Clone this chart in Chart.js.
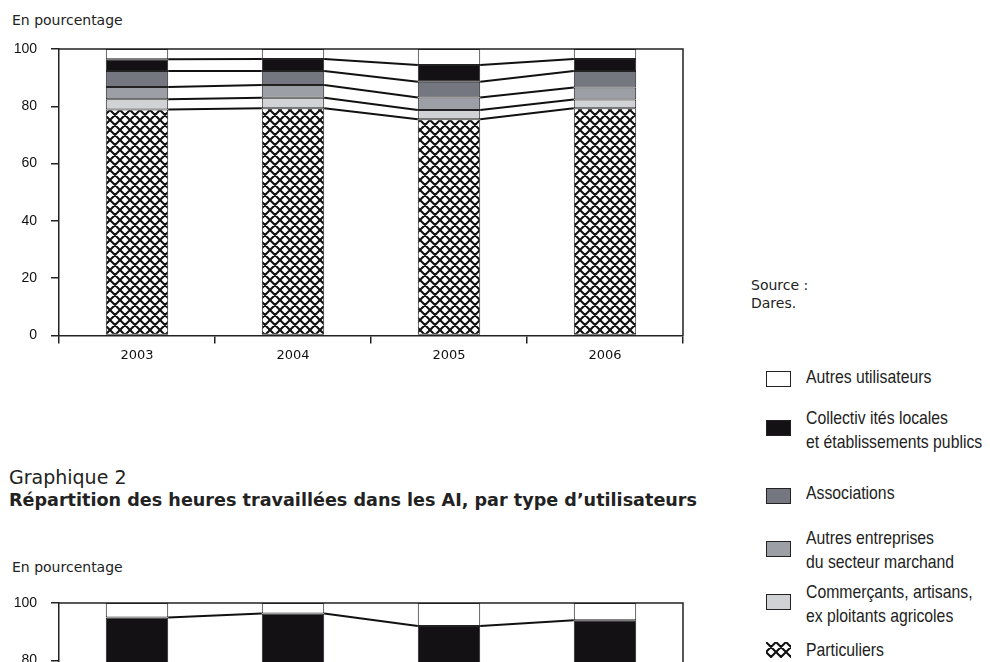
<!DOCTYPE html>
<html><head><meta charset="utf-8">
<script src="https://cdn.jsdelivr.net/npm/chart.js@4/dist/chart.umd.min.js"></script>
<style>
html,body{margin:0;padding:0;width:990px;height:662px;overflow:hidden;background:#fff;}
.abs{position:absolute;white-space:nowrap;}
.dv{font-family:"DejaVu Sans",sans-serif;color:#222;}
.lg{font-family:"Liberation Sans",sans-serif;font-size:19px;line-height:24px;color:#222;transform:scaleX(0.83);transform-origin:0 0;}
.box{position:absolute;left:766px;width:25px;height:16px;box-sizing:border-box;border:1px solid #222;}
</style></head><body>
<div class="abs dv" style="left:12px;top:12px;font-size:14px;line-height:16px">En pourcentage</div>
<canvas id="c1" class="abs" style="left:0;top:0" width="700" height="380"></canvas>

<div class="abs dv" style="left:751px;top:276px;font-size:14px;line-height:18px">Source :<br>Dares.</div>
<div id="legend"></div>

<div class="abs dv" style="left:9px;top:466px;font-size:19px;line-height:22px">Graphique 2</div>
<div class="abs dv" style="left:9px;top:489px;font-size:17.6px;line-height:22px;font-weight:bold">Répartition des heures travaillées dans les AI, par type d’utilisateurs</div>
<div class="abs dv" style="left:12px;top:559px;font-size:14px;line-height:16px">En pourcentage</div>
<canvas id="c2" class="abs" style="left:0;top:554px" width="700" height="380"></canvas>

<script>
// ---- data ----
const years = ['2003', '2004', '2005', '2006'];
const yTicks = [0, 20, 40, 60, 80, 100];
const particuliers       = [78.9, 79.3, 75.5, 79.3];
const commercants        = [3.6, 3.7, 3.2, 3.1];
const autresEntreprises  = [4.2, 4.4, 4.4, 4.2];
const associations       = [5.6, 4.9, 5.5, 5.7];
const collectivites      = [4.1, 4.2, 5.8, 4.2];
const autresUtilisateurs = [3.6, 3.5, 5.6, 3.5];
// graphique 2 (only its top part is visible)
const g2Collectivites      = [94.9, 96.3, 92.0, 94.0];
const g2AutresUtilisateurs = [5.1, 3.7, 8.0, 6.0];

const labelParticuliers = ['Particuliers'];
const labelCommercants = ['Commerçants, artisans,', 'ex ploitants agricoles'];
const labelAutresEntreprises = ['Autres entreprises', 'du secteur marchand'];
const labelAssociations = ['Associations'];
const labelCollectivites = ['Collectiv ités locales', 'et établissements publics'];
const labelAutresUtilisateurs = ['Autres utilisateurs'];

// ---- styles ----
function makeHatchTile(){
  const c = document.createElement('canvas'); c.width = 10; c.height = 10;
  const g = c.getContext('2d');
  g.fillStyle = '#fff'; g.fillRect(0, 0, 10, 10);
  g.strokeStyle = '#111'; g.lineWidth = 2.1;
  g.beginPath();
  for (const dx of [-10, 0, 10]) {
    g.moveTo(dx - 1, -1); g.lineTo(dx + 11, 11);
    g.moveTo(dx + 11, -1); g.lineTo(dx - 1, 11);
  }
  g.stroke();
  return c;
}
const tile = makeHatchTile();
const hatch = document.getElementById('c1').getContext('2d').createPattern(tile, 'repeat');

const colWhite = '#ffffff', colBlack = '#141115', colDark = '#74777f', colMid = '#9c9fa5', colLight = '#d1d2d5';

const series = [
  {label: labelParticuliers, data: particuliers, bg: hatch},
  {label: labelCommercants, data: commercants, bg: colLight},
  {label: labelAutresEntreprises, data: autresEntreprises, bg: colMid},
  {label: labelAssociations, data: associations, bg: colDark},
  {label: labelCollectivites, data: collectivites, bg: colBlack},
  {label: labelAutresUtilisateurs, data: autresUtilisateurs, bg: colWhite},
];

const connectors = {
  id: 'connectors',
  afterDatasetsDraw(chart) {
    const ctx = chart.ctx, n = chart.data.datasets.length;
    ctx.save();
    ctx.strokeStyle = '#111'; ctx.lineWidth = 2; ctx.lineCap = 'butt';
    for (let d = 0; d < n - 1; d++) {
      const meta = chart.getDatasetMeta(d);
      for (let i = 0; i < meta.data.length - 1; i++) {
        const a = meta.data[i], b = meta.data[i + 1];
        ctx.beginPath();
        ctx.moveTo(a.x + a.width / 2, a.y);
        ctx.lineTo(b.x - b.width / 2, b.y);
        ctx.stroke();
      }
    }
    const {left, right, top, bottom} = chart.chartArea;
    ctx.strokeStyle = '#222'; ctx.lineWidth = 1.5;
    ctx.beginPath(); ctx.moveTo(left, top); ctx.lineTo(right, top); ctx.lineTo(right, bottom); ctx.stroke();
    ctx.restore();
  }
};

function makeChart(id, datasets) {
  return new Chart(document.getElementById(id), {
    type: 'bar',
    data: {labels: years, datasets},
    options: {
      responsive: false, animation: false,
      layout: {padding: {top: 49, right: 17, left: 0, bottom: 0}},
      plugins: {legend: {display: false}, tooltip: {enabled: false}},
      datasets: {bar: {barPercentage: 0.4, categoryPercentage: 1.0}},
      scales: {
        x: {
          stacked: true, offset: true,
          grid: {offset: true, drawOnChartArea: false, drawTicks: true, tickLength: 8, color: '#222', lineWidth: 1.5},
          border: {display: true, color: '#222', width: 1.5},
          ticks: {font: {family: 'DejaVu Sans', size: 13}, color: '#111', padding: 4},
          afterFit(s) { s.height = 380 - 335.5; }
        },
        y: {
          stacked: true, min: 0, max: 100,
          afterBuildTicks(s) { s.ticks = yTicks.map(v => ({value: v})); },
          grid: {drawOnChartArea: false, drawTicks: true, tickLength: 8, color: '#222', lineWidth: 1.5},
          border: {display: true, color: '#222', width: 1.5},
          ticks: {font: {family: 'Liberation Sans', size: 14}, color: '#111', padding: 14},
          afterFit(s) { s.width = 59; }
        }
      }
    },
    plugins: [connectors]
  });
}

makeChart('c1', series.map(s => ({
  label: s.label.join(' '), data: s.data, backgroundColor: s.bg,
  borderColor: '#222', borderWidth: 1, borderSkipped: false
})));

makeChart('c2', [
  {label: labelCollectivites.join(' '), data: g2Collectivites, backgroundColor: colBlack, borderColor: '#222', borderWidth: 1, borderSkipped: false},
  {label: labelAutresUtilisateurs.join(' '), data: g2AutresUtilisateurs, backgroundColor: colWhite, borderColor: '#222', borderWidth: 1, borderSkipped: false}
]);

// ---- legend (top of stack first) ----
const legendTops = [365, 406, 481, 526, 580, 638];   // text block tops
const boxTops = [371, 420, 488, 541, 594, 642];
const legend = document.getElementById('legend');
series.slice().reverse().forEach((s, k) => {
  const t = document.createElement('div');
  t.className = 'abs lg'; t.style.left = '806px'; t.style.top = legendTops[k] + 'px';
  t.innerHTML = s.label.join('<br>');
  legend.appendChild(t);
  if (s.bg === hatch) {
    const c = document.createElement('canvas'); c.width = 25; c.height = 16;
    c.className = 'abs'; c.style.left = '766px'; c.style.top = boxTops[k] + 'px';
    const g = c.getContext('2d'); g.fillStyle = g.createPattern(tile, 'repeat'); g.fillRect(0, 0, 25, 16);
    legend.appendChild(c);
  } else {
    const b = document.createElement('div');
    b.className = 'box'; b.style.top = boxTops[k] + 'px'; b.style.background = s.bg;
    legend.appendChild(b);
  }
});
</script>
</body></html>
